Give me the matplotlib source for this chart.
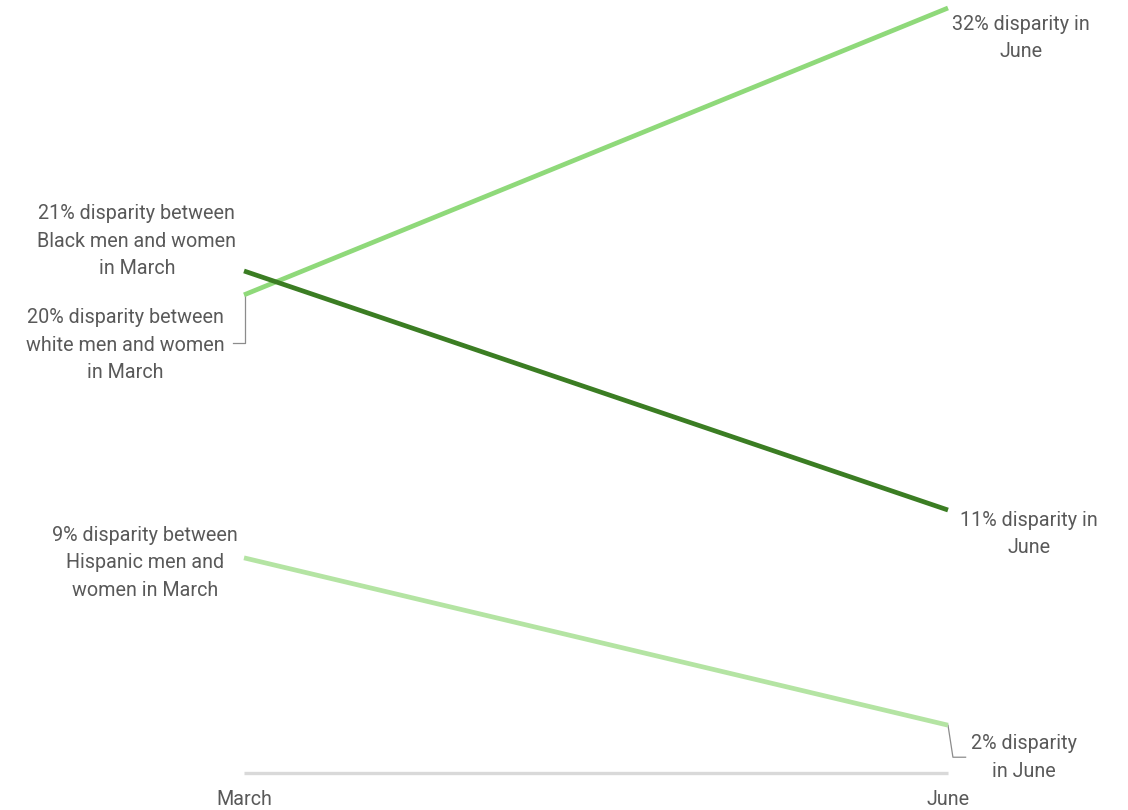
import matplotlib
matplotlib.use("Agg")
import matplotlib.pyplot as plt

plt.rcParams['font.family'] = ['Roboto', 'DejaVu Sans']

periods = ["March", "June"]
groups = ["white", "Black", "Hispanic"]
march_values = [20, 21, 9]
june_values = [32, 11, 2]
colors = ["#8fd97a", "#3b7d23", "#b4e4a3"]
march_labels = [
    "20% disparity between\nwhite men and women\nin March",
    "21% disparity between\nBlack men and women\nin March",
    "9% disparity between\nHispanic men and\nwomen in March",
]
june_labels = [
    "32% disparity in\nJune",
    "11% disparity in\nJune",
    "2% disparity\nin June",
]

W, H = 1128, 810
fig = plt.figure(figsize=(W / 100, H / 100), dpi=100)
x0, x1 = 244, 948
y0, y1 = 773, 8
ax = fig.add_axes([x0 / W, (H - y0) / H, (x1 - x0) / W, (y0 - y1) / H])
ax.set_xlim(0, 1)
ax.set_ylim(0, 32)
ax.axis("off")

txt = "#595959"
fs = 14.2
ls = 1.56

# baseline
ax.plot([0, 1], [0, 0], color="#d9d9d9", lw=2.4, solid_capstyle="butt", clip_on=False, zorder=1)

xs = [0, 1]
for m, j, c in zip(march_values, june_values, colors):
    ax.plot(xs, [m, j], color=c, lw=3.4, solid_capstyle="butt", clip_on=False, zorder=3)

ax.text(0, -1.1, periods[0], ha="center", va="center", color=txt, fontsize=fs)
ax.text(1, -1.1, periods[1], ha="center", va="center", color=txt, fontsize=fs)

march_label_y = [17.9, 22.25, 8.8]
march_label_x = [-0.027, -0.011, -0.009]
for lab, ly, lx in zip(march_labels, march_label_y, march_label_x):
    ax.text(lx, ly, lab, ha="right", va="center", multialignment="center",
            color=txt, fontsize=fs, linespacing=ls, clip_on=False)

ax.plot([0.0012, 0.0012, -0.016], [march_values[0], 18.0, 18.0], color="#8c8c8c", lw=0.9,
        clip_on=False, zorder=2)

june_label_y = [30.75, 10.0, 0.65]
june_label_x = [1.006, 1.017, 1.033]
for lab, ly, lx in zip(june_labels, june_label_y, june_label_x):
    ax.text(lx, ly, lab, ha="left", va="center", multialignment="center",
            color=txt, fontsize=fs, linespacing=ls, clip_on=False)

ax.plot([1.0, 1.007, 1.025], [june_values[2], 0.66, 0.66], color="#8c8c8c", lw=0.9,
        clip_on=False, zorder=2)

fig.savefig("out.png", dpi=100, facecolor="white")
